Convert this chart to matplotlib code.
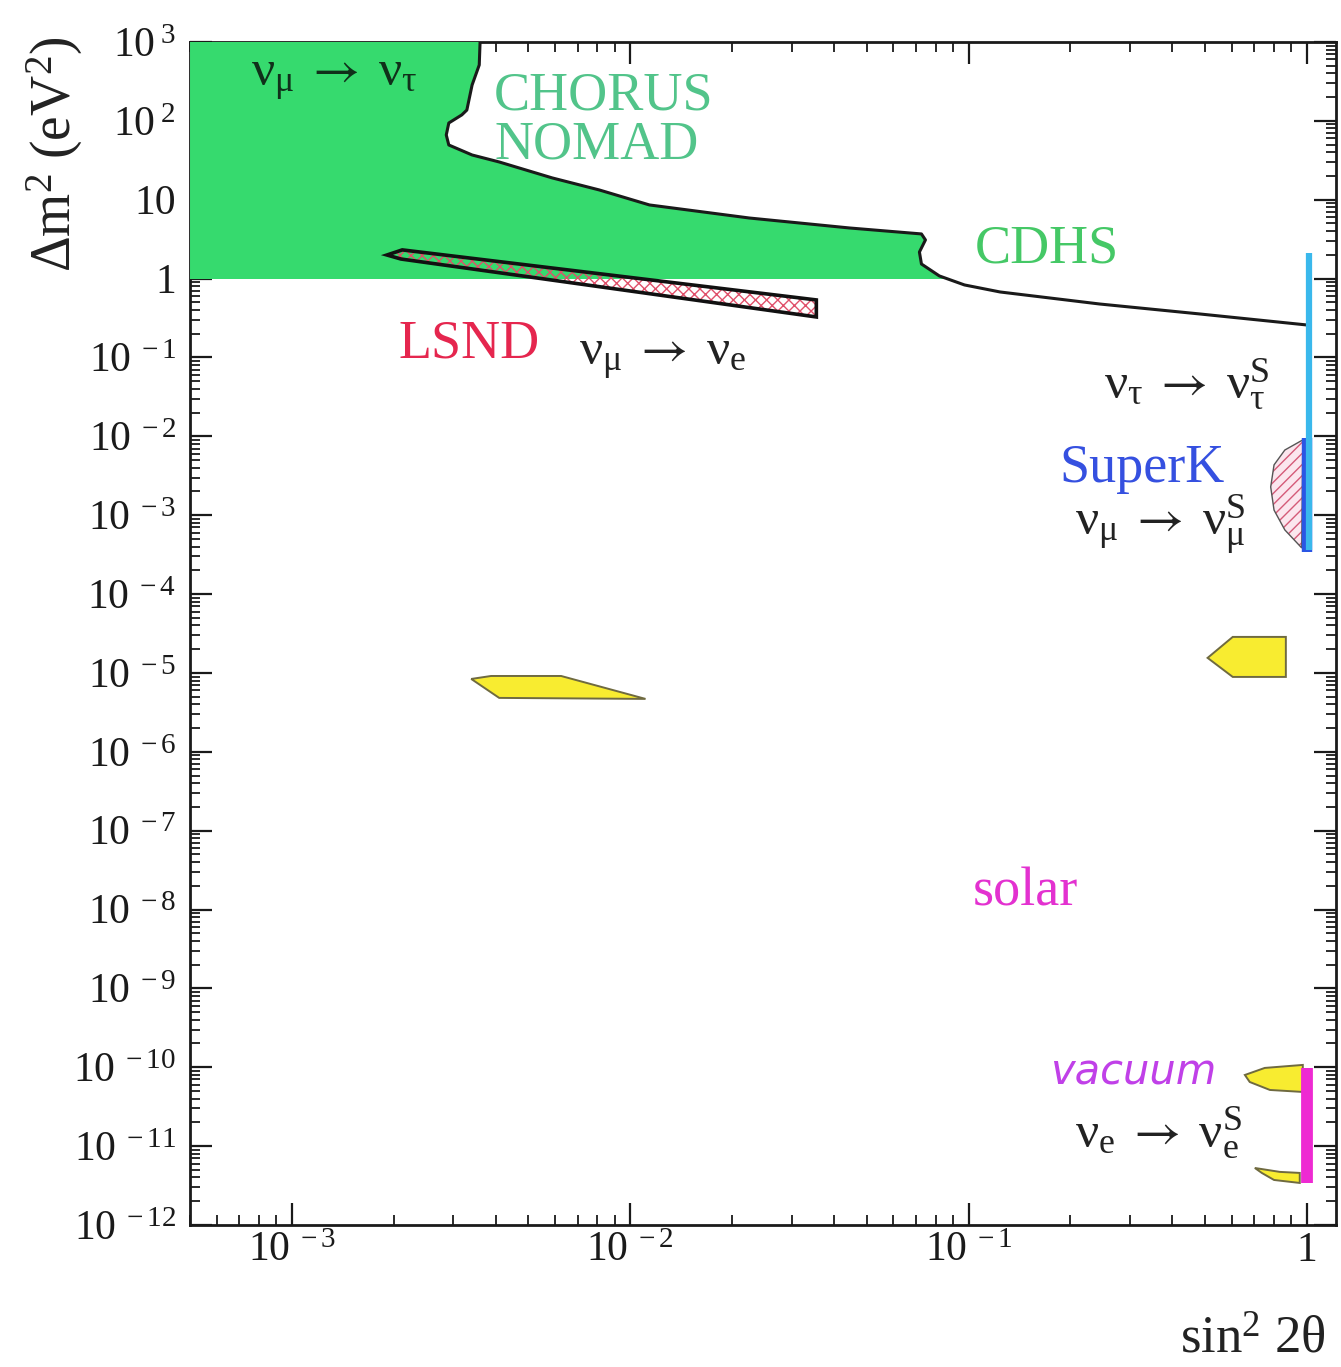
"""Neutrino oscillation parameter space: sin^2 2theta vs Delta m^2."""

import matplotlib.pyplot as plt
import numpy as np
from matplotlib.patches import Polygon, Rectangle
from matplotlib.ticker import FixedLocator, LogLocator, NullFormatter

plt.rcParams["mathtext.fontset"] = "stix"
plt.rcParams["mathtext.default"] = "regular"
plt.rcParams["font.family"] = ["Liberation Serif", "DejaVu Serif"]
plt.rcParams["hatch.linewidth"] = 1.0

# axis ranges
X_RANGE = (5e-4, 1.22)
Y_RANGE = (1e-12, 1e3)

# tick values and labels
x_ticks = [1e-3, 1e-2, 1e-1, 1.0]
x_ticklabels = [r"$10^{\;-3}$", r"$10^{\;-2}$", r"$10^{\;-1}$", "1"]
y_ticks = [10.0 ** k for k in range(-12, 4)]
y_ticklabels = [
    r"$10^{\;-12}$", r"$10^{\;-11}$", r"$10^{\;-10}$", r"$10^{\;-9}$",
    r"$10^{\;-8}$", r"$10^{\;-7}$", r"$10^{\;-6}$", r"$10^{\;-5}$",
    r"$10^{\;-4}$", r"$10^{\;-3}$", r"$10^{\;-2}$", r"$10^{\;-1}$",
    "1", "10", r"$10^{\;2}$", r"$10^{\;3}$",
]

# CHORUS / NOMAD + CDHS exclusion contour (nu_mu -> nu_tau)
excl_x = [3.60e-3, 3.58e-3, 3.41e-3, 3.29e-3, 3.18e-3, 2.91e-3, 2.86e-3, 2.91e-3,
          3.41e-3, 4.10e-3, 5.88e-3, 8.10e-3, 1.14e-2, 2.25e-2, 4.45e-2, 7.26e-2,
          7.46e-2, 7.16e-2, 7.26e-2, 8.20e-2, 9.73e-2, 0.124, 0.244, 0.482, 1.0]
excl_y = [1000, 511, 285, 137, 119, 93.9, 66.2, 49.4,
          36.9, 30.1, 18.9, 13.3, 8.58, 5.86, 4.38, 3.68,
          3.09, 2.17, 1.53, 1.08, 0.83, 0.676, 0.476, 0.356, 0.258]

# LSND allowed band (nu_mu -> nu_e)
lsnd_x = [1.91e-3, 2.12e-3, 3.55e-2, 3.55e-2, 2.10e-3]
lsnd_y = [1.99, 2.31, 0.536, 0.326, 1.77]

# SuperK atmospheric region
superk_x = [0.973, 0.861, 0.80, 0.782, 0.80, 0.861, 0.966]
superk_y = [9.0e-3, 6.7e-3, 4.34e-3, 2.28e-3, 1.16e-3, 6.5e-4, 3.84e-4]

# solar solutions
sma_x = [3.39e-3, 3.88e-3, 6.25e-3, 1.11e-2, 4.10e-3]
sma_y = [8.38e-6, 9.14e-6, 9.14e-6, 4.68e-6, 4.82e-6]
lma_x = [0.509, 0.604, 0.867, 0.867, 0.604]
lma_y = [1.55e-5, 2.86e-5, 2.86e-5, 8.89e-6, 8.89e-6]
vac1_x = [0.656, 0.751, 0.973, 0.973, 0.778, 0.678]
vac1_y = [7.98e-11, 9.8e-11, 1.07e-10, 4.86e-11, 5.15e-11, 6.5e-11]
vac2_x = [0.702, 0.832, 0.953, 0.953, 0.80, 0.736]
vac2_y = [5.28e-12, 4.71e-12, 4.57e-12, 3.41e-12, 3.72e-12, 4.57e-12]

# sterile ranges at maximal mixing: (x, low, high)
tau_sterile = (1.014, 3.62e-4, 2.11)
mu_sterile = (1.0, 3.42e-4, 9.5e-3)
e_sterile = (1.0, 3.4e-12, 9.8e-11)

ARROW = r"\;\mathit{\rightarrow}\;"


def poly(xs, ys, **kw):
    return Polygon(np.column_stack([xs, ys]), closed=True, **kw)


def channel(a, b):
    return "$" + a + ARROW + b + "$"


fig = plt.figure(figsize=(13.41, 13.67), dpi=100)
ax = fig.add_axes([0.1417, 0.1039, 0.8546, 0.8654])
ax.set_xscale("log")
ax.set_yscale("log")
ax.set_xlim(*X_RANGE)
ax.set_ylim(*Y_RANGE)

# green exclusion fill, only above Delta m^2 = 1
fill_pts = np.column_stack(
    [[X_RANGE[0]] + excl_x + [X_RANGE[0]], [Y_RANGE[1]] + excl_y + [excl_y[-1]]]
)
green = Polygon(fill_pts, closed=True, facecolor="#36da6e", edgecolor="none", zorder=3)
ax.add_patch(green)
clip = Rectangle((X_RANGE[0], 1.0), X_RANGE[1] - X_RANGE[0], Y_RANGE[1] - 1.0,
                 transform=ax.transData)
green.set_clip_path(clip)
ax.plot(excl_x, excl_y, color="#1a1a1a", lw=2.2, zorder=4)

# LSND band: hatch layer + outline
ax.add_patch(poly(lsnd_x, lsnd_y, facecolor="none", edgecolor="#e0506a",
                  hatch="xxx", lw=0, zorder=4))
ax.add_patch(poly(lsnd_x, lsnd_y, facecolor="none", edgecolor="#111111",
                  lw=2.6, zorder=5))

# SuperK
ax.add_patch(poly(superk_x, superk_y, facecolor="#fbe6ee", edgecolor="#d45a78",
                  hatch="///", lw=0, zorder=3))
ax.add_patch(poly(superk_x, superk_y, facecolor="none", edgecolor="#555555",
                  lw=1.0, zorder=3))

# solar regions
for xs, ys in [(sma_x, sma_y), (lma_x, lma_y), (vac1_x, vac1_y), (vac2_x, vac2_y)]:
    ax.add_patch(poly(xs, ys, facecolor="#f8ec30", edgecolor="#6f6a40",
                      lw=1.4, zorder=3))

# vertical bars at maximal mixing
ax.plot([mu_sterile[0]] * 2, mu_sterile[1:], color="#2a56e4", lw=7.5,
        solid_capstyle="butt", zorder=5)
ax.plot([tau_sterile[0]] * 2, tau_sterile[1:], color="#3ab8ec", lw=4.5,
        solid_capstyle="butt", zorder=6)
ax.plot([e_sterile[0]] * 2, e_sterile[1:], color="#ee2ad2", lw=8.5,
        solid_capstyle="butt", zorder=5)

# ticks
ax.xaxis.set_major_locator(FixedLocator(x_ticks))
ax.set_xticklabels(x_ticklabels)
ax.yaxis.set_major_locator(FixedLocator(y_ticks))
ax.set_yticklabels(y_ticklabels)
ax.xaxis.set_minor_locator(LogLocator(base=10, subs=np.arange(2, 10), numticks=100))
ax.yaxis.set_minor_locator(LogLocator(base=10, subs=np.arange(2, 10), numticks=100))
ax.xaxis.set_minor_formatter(NullFormatter())
ax.yaxis.set_minor_formatter(NullFormatter())
ax.tick_params(which="both", direction="in", top=True, right=True, colors="#1a1a1a")
ax.tick_params(which="major", length=16, width=1.6, labelsize=30)
ax.tick_params(which="minor", length=7, width=1.3)
ax.tick_params(axis="y", pad=10)
ax.tick_params(axis="x", pad=5)
for s in ax.spines.values():
    s.set_linewidth(2.0)
    s.set_color("#1a1a1a")

# axis titles
ax.text(-0.118, 0.905, r"$\Delta m^2\ (eV^2)$", transform=ax.transAxes,
        rotation=90, ha="center", va="center", fontsize=40, color="#222222")
ax.text(0.927, -0.097, r"$sin^2\ 2\theta$", transform=ax.transAxes,
        ha="center", va="center", fontsize=38, color="#222222")

# annotations
ax.text(1.33e-3, 330, channel(r"\nu_\mu", r"\nu_\tau"), ha="center", va="center",
        fontsize=37, color="#10301a", zorder=6)
ax.text(3.96e-3, 141, "CHORUS", fontsize=39, color="#52c48a", zorder=6)
ax.text(3.96e-3, 32.9, "NOMAD", fontsize=39, color="#52c48a", zorder=6)
ax.text(0.104, 1.58, "CDHS", fontsize=39, color="#45c866", zorder=6)
ax.text(2.07e-3, 0.1, "LSND", fontsize=39, color="#e5264e", zorder=6)
ax.text(7.06e-3, 0.080, channel(r"\nu_\mu", r"\nu_e"), fontsize=37, color="#222222")
ax.text(0.252, 0.0306, channel(r"\nu_\tau", r"\nu_\tau^S"), fontsize=37, color="#222222")
ax.text(0.186, 2.64e-3, "SuperK", fontsize=39, color="#3550e0")
ax.text(0.206, 5.6e-4, channel(r"\nu_\mu", r"\nu_\mu^S"), fontsize=37, color="#222222")
ax.text(0.103, 1.14e-8, "solar", fontsize=39, color="#e331d0")
ax.text(0.174, 5.97e-11, "vacuum", fontsize=30, color="#c040e8",
        family="DejaVu Sans", style="oblique", weight="light")
ax.text(0.206, 9.77e-12, channel(r"\nu_e", r"\nu_e^S"), fontsize=37, color="#222222")

fig.savefig("out.png", dpi=100)
